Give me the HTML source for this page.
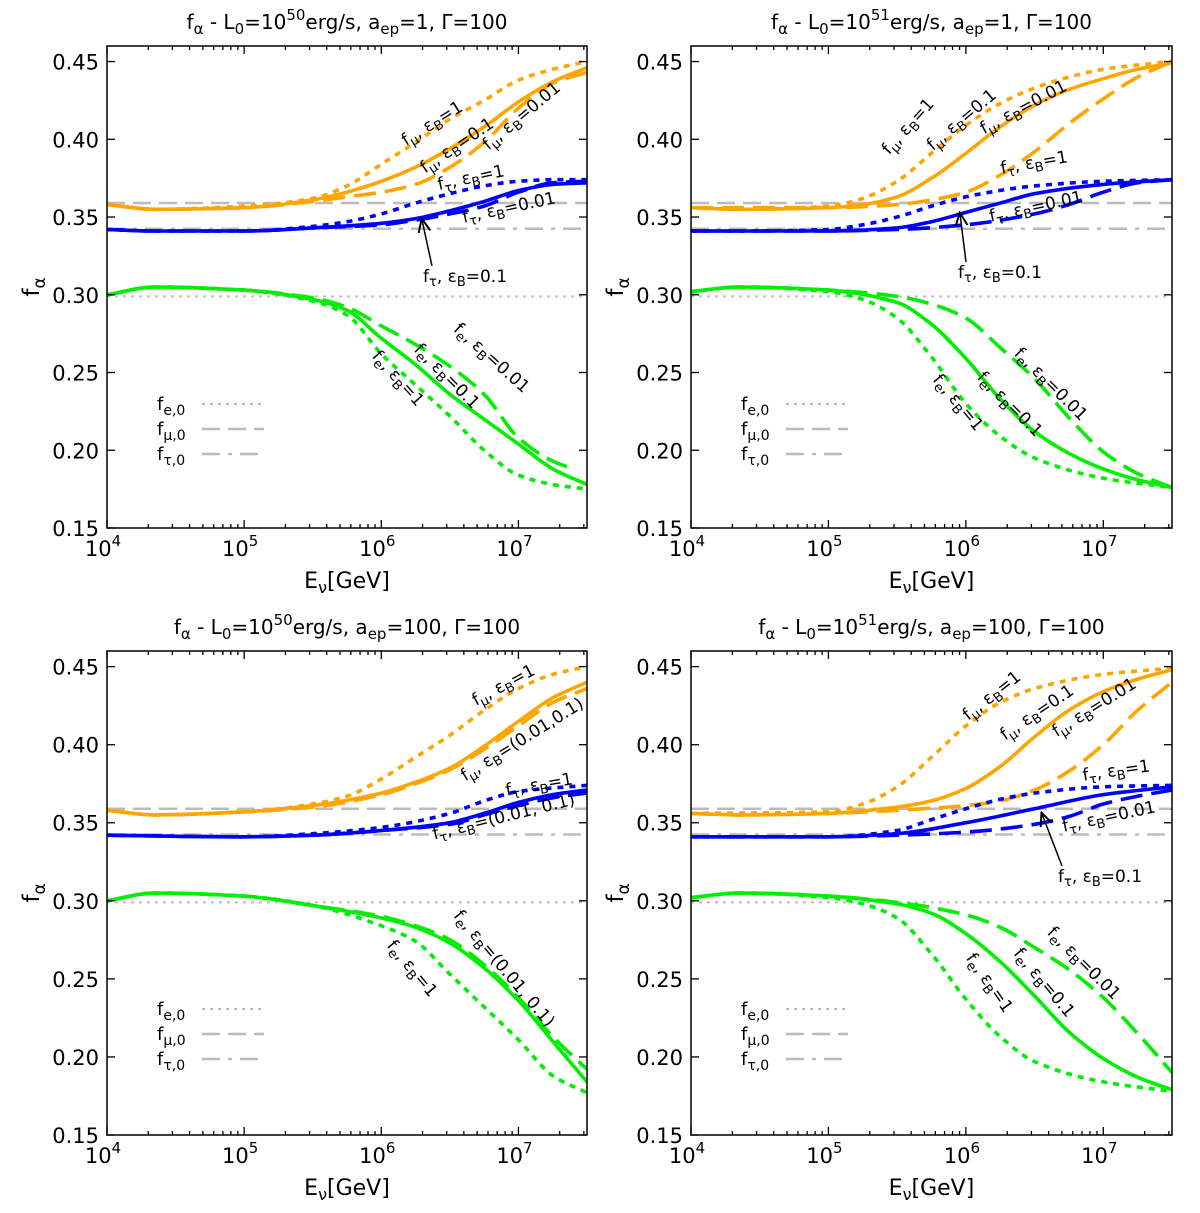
<!DOCTYPE html>
<html><head><meta charset="utf-8">
<style>
html,body{margin:0;padding:0;background:#fff;}
svg{display:block;font-family:"DejaVu Sans","Liberation Sans",sans-serif;}
</style></head>
<body>
<svg id="chart" width="1200" height="1213" viewBox="0 0 1200 1213" xmlns="http://www.w3.org/2000/svg"></svg>
<script>
// ---- data: [log10(E/GeV), f_alpha] ----
const TL_MU_1=[[4,.358],[4.35,.355],[5,.357],[5.5,.362],[5.75,.370],[6,.384],[6.25,.398],[6.5,.413],[6.75,.425],[7,.438],[7.25,.445],[7.5,.450]];
const TL_MU_01=[[4,.358],[4.35,.355],[5,.356],[5.5,.361],[5.75,.366],[6,.373],[6.25,.382],[6.5,.394],[6.75,.408],[7,.424],[7.25,.437],[7.5,.446]];
const TL_MU_001=[[4,.358],[4.35,.355],[5,.356],[5.5,.360],[5.75,.363],[6,.366],[6.25,.371],[6.5,.382],[6.75,.398],[7,.420],[7.25,.436],[7.5,.443]];
const TL_TAU_1=[[4,.342],[4.35,.341],[5,.341],[5.5,.344],[5.75,.347],[6,.352],[6.25,.359],[6.5,.365],[6.75,.370],[7,.373],[7.25,.374],[7.5,.374]];
const TL_TAU_01=[[4,.342],[4.35,.341],[5,.341],[5.5,.343],[6,.346],[6.25,.349],[6.5,.354],[6.75,.360],[7,.367],[7.25,.371],[7.5,.372]];
const TL_TAU_001=[[4,.342],[4.35,.341],[5,.341],[5.5,.343],[6,.345],[6.25,.348],[6.5,.352],[6.75,.357],[7,.366],[7.25,.372],[7.5,.373]];
const TL_E_1=[[4,.300],[4.35,.305],[5,.303],[5.5,.296],[5.75,.287],[6,.262],[6.25,.242],[6.5,.222],[6.75,.200],[7,.184],[7.25,.178],[7.5,.175]];
const TL_E_01=[[4,.300],[4.35,.305],[5,.303],[5.5,.297],[5.75,.290],[6,.272],[6.25,.255],[6.5,.236],[6.75,.220],[7,.204],[7.25,.188],[7.5,.178]];
const TL_E_001=[[4,.300],[4.35,.305],[5,.303],[5.5,.298],[5.75,.292],[6,.280],[6.25,.268],[6.5,.254],[6.75,.236],[7,.208],[7.25,.193],[7.4,.188]];

const TR_MU_1=[[4,.356],[4.35,.355],[5,.357],[5.25,.362],[5.5,.373],[5.75,.391],[6,.409],[6.25,.423],[6.5,.433],[6.75,.440],[7,.445],[7.5,.450]];
const TR_MU_01=[[4,.356],[4.35,.355],[5,.356],[5.25,.358],[5.5,.363],[5.75,.375],[6,.391],[6.25,.408],[6.5,.422],[6.75,.432],[7,.439],[7.25,.445],[7.5,.449]];
const TR_MU_001=[[4,.356],[5,.356],[5.5,.358],[5.75,.361],[6,.366],[6.25,.377],[6.5,.392],[6.75,.410],[7,.426],[7.25,.440],[7.5,.450]];
const TR_TAU_1=[[4,.341],[4.35,.341],[5,.342],[5.25,.345],[5.5,.350],[5.75,.357],[6,.363],[6.5,.370],[7,.373],[7.5,.374]];
const TR_TAU_01=[[4,.341],[5,.341],[5.5,.343],[5.75,.347],[6,.353],[6.25,.359],[6.5,.365],[7,.371],[7.5,.374]];
const TR_TAU_001=[[4,.341],[5,.341],[5.5,.342],[6,.345],[6.5,.352],[6.75,.358],[7,.366],[7.25,.372],[7.5,.374]];
const TR_E_1=[[4,.302],[4.35,.305],[5,.302],[5.25,.297],[5.5,.285],[5.75,.260],[6,.230],[6.25,.209],[6.5,.195],[7,.182],[7.5,.176]];
const TR_E_01=[[4,.302],[4.35,.305],[5,.303],[5.5,.295],[5.75,.281],[6,.259],[6.25,.233],[6.5,.212],[6.75,.198],[7,.188],[7.25,.181],[7.5,.176]];
const TR_E_001=[[4,.302],[4.35,.305],[5,.303],[5.5,.299],[5.75,.294],[6,.285],[6.25,.266],[6.5,.246],[6.75,.221],[7,.199],[7.25,.185],[7.5,.176]];

const BL_MU_1=[[4,.358],[4.35,.355],[5,.357],[5.5,.362],[5.75,.367],[6,.378],[6.25,.392],[6.5,.406],[6.75,.422],[7,.436],[7.25,.445],[7.5,.450]];
const BL_MU_01=[[4,.358],[4.35,.355],[5,.357],[5.5,.361],[6,.369],[6.25,.376],[6.5,.385],[6.75,.399],[7,.415],[7.25,.430],[7.5,.440]];
const BL_MU_001=[[4,.358],[4.35,.355],[5,.357],[5.5,.360],[6,.368],[6.25,.375],[6.5,.384],[6.75,.397],[7,.412],[7.25,.427],[7.5,.436]];
const BL_TAU_1=[[4,.342],[5,.341],[5.5,.343],[6,.347],[6.5,.356],[6.75,.364],[7,.370],[7.5,.374]];
const BL_TAU_01=[[4,.342],[5,.341],[5.5,.342],[6,.345],[6.5,.350],[6.75,.356],[7,.363],[7.25,.368],[7.5,.371]];
const BL_TAU_001=[[4,.342],[5,.341],[5.5,.342],[6,.345],[6.5,.349],[6.75,.355],[7,.361],[7.25,.366],[7.5,.369]];
const BL_E_1=[[4,.300],[4.35,.305],[5,.303],[5.5,.297],[6,.284],[6.25,.274],[6.5,.253],[6.75,.232],[7,.211],[7.25,.188],[7.5,.177]];
const BL_E_01=[[4,.300],[4.35,.305],[5,.303],[5.5,.297],[6,.289],[6.25,.283],[6.5,.273],[6.75,.257],[7,.236],[7.25,.210],[7.5,.184]];
const BL_E_001=[[4,.300],[4.35,.305],[5,.303],[5.5,.297],[6,.290],[6.25,.284],[6.5,.275],[6.75,.259],[7,.238],[7.25,.213],[7.5,.192]];

const BR_MU_1=[[4,.356],[5,.357],[5.25,.362],[5.5,.373],[5.75,.392],[6,.412],[6.25,.427],[6.5,.436],[7,.445],[7.5,.449]];
const BR_MU_01=[[4,.356],[4.35,.355],[5,.356],[5.5,.360],[5.75,.364],[6,.372],[6.25,.386],[6.5,.405],[6.75,.422],[7,.434],[7.25,.442],[7.5,.448]];
const BR_MU_001=[[4,.356],[4.35,.355],[5,.356],[5.5,.358],[6,.361],[6.25,.364],[6.5,.371],[6.75,.383],[7,.400],[7.25,.422],[7.5,.440]];
const BR_TAU_1=[[4,.341],[5,.341],[5.5,.345],[5.75,.352],[6,.359],[6.25,.365],[6.5,.369],[7,.373],[7.5,.374]];
const BR_TAU_01=[[4,.341],[5,.341],[5.5,.343],[6,.350],[6.5,.359],[7,.368],[7.5,.373]];
const BR_TAU_001=[[4,.341],[5,.341],[5.5,.342],[6,.344],[6.5,.349],[6.75,.354],[7,.362],[7.25,.367],[7.5,.371]];
const BR_E_1=[[4,.302],[4.35,.305],[5,.302],[5.25,.298],[5.5,.289],[5.75,.266],[6,.237],[6.25,.213],[6.5,.197],[7,.184],[7.5,.178]];
const BR_E_01=[[4,.302],[4.35,.305],[5,.303],[5.5,.298],[5.75,.292],[6,.279],[6.25,.261],[6.5,.239],[6.75,.216],[7,.199],[7.25,.187],[7.5,.179]];
const BR_E_001=[[4,.302],[4.35,.305],[5,.303],[5.5,.299],[6,.291],[6.25,.283],[6.5,.270],[6.75,.256],[7,.238],[7.25,.215],[7.5,.190]];

const REF_E=0.299, REF_MU=0.359, REF_TAU=0.3425;
const Y_TICKS=[0.15,0.20,0.25,0.30,0.35,0.40,0.45];
const X_DECADES=[4,5,6,7];

const NS="http://www.w3.org/2000/svg";
const svg=document.getElementById('chart');
function mk(tag,attrs,parent){const e=document.createElementNS(NS,tag);for(const k in attrs)e.setAttribute(k,attrs[k]);(parent||svg).appendChild(e);return e;}

const panels=[
 {id:'tl',L:107,R:587,T:46,B:528,sup:'50',aep:'1',series:[TL_MU_1,TL_MU_01,TL_MU_001,TL_TAU_1,TL_TAU_01,TL_TAU_001,TL_E_1,TL_E_01,TL_E_001]},
 {id:'tr',L:691,R:1172,T:46,B:528,sup:'51',aep:'1',series:[TR_MU_1,TR_MU_01,TR_MU_001,TR_TAU_1,TR_TAU_01,TR_TAU_001,TR_E_1,TR_E_01,TR_E_001]},
 {id:'bl',L:107,R:587,T:651,B:1135,sup:'50',aep:'100',series:[BL_MU_1,BL_MU_01,BL_MU_001,BL_TAU_1,BL_TAU_01,BL_TAU_001,BL_E_1,BL_E_01,BL_E_001]},
 {id:'br',L:691,R:1172,T:651,B:1135,sup:'51',aep:'100',series:[BR_MU_1,BR_MU_01,BR_MU_001,BR_TAU_1,BR_TAU_01,BR_TAU_001,BR_E_1,BR_E_01,BR_E_001]}
];
const colors=['#ffa500','#ffa500','#ffa500','#0000ff','#0000ff','#0000ff','#00ee00','#00ee00','#00ee00'];
const dashes=['6 6','none','22 9','6 6','none','22 9','6 6','none','22 9'];
const seriesNames=['mu-eb1','mu-eb01','mu-eb001','tau-eb1','tau-eb01','tau-eb001','e-eb1','e-eb01','e-eb001'];

// monotone cubic interpolation
function pathFrom(pts,sx,sy){
  const X=pts.map(p=>sx(p[0])),Y=pts.map(p=>sy(p[1])),n=X.length;
  const dx=[],m=[];for(let i=0;i<n-1;i++){dx.push(X[i+1]-X[i]);m.push((Y[i+1]-Y[i])/dx[i]);}
  const t=new Array(n);t[0]=m[0];t[n-1]=m[n-2];
  for(let i=1;i<n-1;i++){ if(m[i-1]*m[i]<=0)t[i]=0; else {const w1=2*dx[i]+dx[i-1],w2=dx[i]+2*dx[i-1];t[i]=(w1+w2)/(w1/m[i-1]+w2/m[i]);} }
  let d='M'+X[0].toFixed(1)+','+Y[0].toFixed(1);
  for(let i=0;i<n-1;i++){const h=dx[i]/3;
    d+=' C'+(X[i]+h).toFixed(1)+','+(Y[i]+t[i]*h).toFixed(1)+' '+(X[i+1]-h).toFixed(1)+','+(Y[i+1]-t[i+1]*h).toFixed(1)+' '+X[i+1].toFixed(1)+','+Y[i+1].toFixed(1);}
  return d;
}

panels.forEach(p=>{
  const sx=v=>p.L+(v-4)/3.5*(p.R-p.L);
  const yTop=0.46,yBot=0.15;
  const sy=v=>p.B-(v-yBot)/(yTop-yBot)*(p.B-p.T);
  const g=mk('g',{});
  
  
  const clipId='clip-'+p.id;
  const cp=mk('clipPath',{id:clipId},g);mk('rect',{x:p.L,y:p.T,width:p.R-p.L,height:p.B-p.T},cp);
  const plot=mk('g',{'clip-path':'url(#'+clipId+')'},g);
  const r1=mk('line',{x1:p.L,x2:p.R,y1:sy(REF_E),y2:sy(REF_E),stroke:'#bbb','stroke-width':2,'stroke-dasharray':'3 5'},plot);
  
  
  const r2=mk('line',{x1:p.L,x2:p.R,y1:sy(REF_MU),y2:sy(REF_MU),stroke:'#bbb','stroke-width':2.5,'stroke-dasharray':'18 8'},plot);
  
  
  const r3=mk('line',{x1:p.L,x2:p.R,y1:sy(REF_TAU),y2:sy(REF_TAU),stroke:'#bbb','stroke-width':2.5,'stroke-dasharray':'18 8 4 8'},plot);
  
  
  p.series.forEach((s,i)=>{
    const a={d:pathFrom(s,sx,sy),fill:'none',stroke:colors[i],'stroke-width':3.6};
    if(dashes[i]!=='none')a['stroke-dasharray']=dashes[i];
    const el=mk('path',a,plot);
    
    
  });
  const fr=mk('rect',{x:p.L,y:p.T,width:p.R-p.L,height:p.B-p.T,fill:'none',stroke:'#000','stroke-width':1.5},g);
  
  
  Y_TICKS.forEach(v=>{
    const y=sy(v);
    mk('line',{x1:p.L,x2:p.L+8,y1:y,y2:y,stroke:'#000','stroke-width':1.3},g);
    mk('line',{x1:p.R,x2:p.R-8,y1:y,y2:y,stroke:'#000','stroke-width':1.3},g);
    const t=mk('text',{x:p.L-8,y:y+8,'text-anchor':'end','font-size':21},g);t.textContent=v.toFixed(2);
    
    
  });
  for(let d=4;d<=7;d++){
    for(let m=1;m<=9;m++){
      const lv=d+Math.log10(m); if(lv>7.5)break;
      const x=sx(lv),len=m===1?8:4;
      mk('line',{x1:x,x2:x,y1:p.B,y2:p.B-len,stroke:'#000','stroke-width':1.3},g);
      mk('line',{x1:x,x2:x,y1:p.T,y2:p.T+len,stroke:'#000','stroke-width':1.3},g);
    }
  }
  X_DECADES.forEach(d=>{
    const t=mk('text',{x:sx(d)-4,y:p.B+28,'text-anchor':'middle','font-size':21},g);
    t.innerHTML='10<tspan dy="-10" font-size="15">'+d+'</tspan>';
    
    
  });
  const cx=(p.L+p.R)/2;
  const xl=mk('text',{x:cx,y:p.B+60,'text-anchor':'middle','font-size':22},g);
  xl.innerHTML='E<tspan dy="5" font-size="16">ν</tspan><tspan dy="-5">[GeV]</tspan>';
  
  
  const yl=mk('text',{x:0,y:0,'text-anchor':'middle','font-size':23,transform:'translate('+(p.L-68)+','+((p.T+p.B)/2)+') rotate(-90)'},g);
  yl.innerHTML='f<tspan dy="6" font-size="17">α</tspan>';
  
  
  const ti=mk('text',{x:cx,y:p.T-17,'text-anchor':'middle','font-size':20},g);
  ti.innerHTML='f<tspan dy="5" font-size="15">α</tspan><tspan dy="-5"> - L</tspan><tspan dy="5" font-size="15">0</tspan><tspan dy="-5">=10</tspan><tspan dy="-9" font-size="15">'+p.sup+'</tspan><tspan dy="9">erg/s, a</tspan><tspan dy="5" font-size="15">ep</tspan><tspan dy="-5">='+p.aep+', Γ=100</tspan>';
  
  
  const lg=mk('g',{},g);
  
  
  const legs=[['e,0','3 5',2],['μ,0','18 8',2.5],['τ,0','18 8 4 8',2.5]];
  legs.forEach((l,i)=>{
    const y=p.T+358+i*25;
    const t=mk('text',{x:p.L+50,y:y+6,'font-size':18},lg);
    t.innerHTML='f<tspan dy="5" font-size="14">'+l[0]+'</tspan>';
    
    
    mk('line',{x1:p.L+95,x2:p.L+157,y1:y,y2:y,stroke:'#bbb','stroke-width':l[2],'stroke-dasharray':l[1]},lg);
  });
});

const ANN=[
 [435,128,-32,'μ','1'],[460,150,-34,'μ','0.1'],[525,120,-40,'μ','0.01'],
 [472,183,-12,'τ','1'],[510,213,-12,'τ','0.01'],[465,282,0,'τ','0.1'],
 [488,362,42,'e','0.01'],[443,380,45,'e','0.1'],[394,382,48,'e','1'],
 [912,130,-48,'μ','1'],[965,124,-40,'μ','0.1'],[1026,112,-28,'μ','0.01'],
 [1035,168,-10,'τ','1'],[1037,212,-12,'τ','0.01'],[1000,278,0,'τ','0.1'],
 [1047,388,45,'e','0.01'],[1006,408,45,'e','0.1'],[954,406,50,'e','1'],
 [506,690,-28,'μ','1'],[525,744,-32,'μ','(0.01,0.1)'],[540,790,-10,'τ','1'],
 [505,822,-14,'τ','(0.01, 0.1)'],[500,972,50,'e','(0.01, 0.1)'],[408,972,50,'e','1'],
 [995,700,-38,'μ','1'],[1040,717,-34,'μ','0.1'],[1097,712,-32,'μ','0.01'],
 [1117,776,-8,'τ','1'],[1110,822,-12,'τ','0.01'],[1100,882,0,'τ','0.1'],
 [1080,967,45,'e','0.01'],[1040,986,50,'e','0.1'],[985,986,55,'e','1']
];
ANN.forEach(a=>{
  const t=mk('text',{x:0,y:0,'text-anchor':'middle','font-size':17,transform:'translate('+a[0]+','+a[1]+') rotate('+a[2]+')'});
  t.innerHTML='f<tspan dy="4" font-size="13">'+a[3]+'</tspan><tspan dy="-4">, ε</tspan><tspan dy="4" font-size="13">B</tspan><tspan dy="-4">='+a[4]+'</tspan>';
  
  
});
const ARR=[[432,266,422,220],[966,262,960,214],[1062,866,1042,814]];
mk('defs',{}).innerHTML='<marker id="ah" markerWidth="10" markerHeight="10" refX="8" refY="5" orient="auto"><path d="M0,1 L9,5 L0,9" fill="none" stroke="#000" stroke-width="1.3"/></marker>';
ARR.forEach(a=>{
  const l=mk('line',{x1:a[0],y1:a[1],x2:a[2],y2:a[3],stroke:'#000','stroke-width':1.5,'marker-end':'url(#ah)'});
  
  
});
</script>
</body></html>
